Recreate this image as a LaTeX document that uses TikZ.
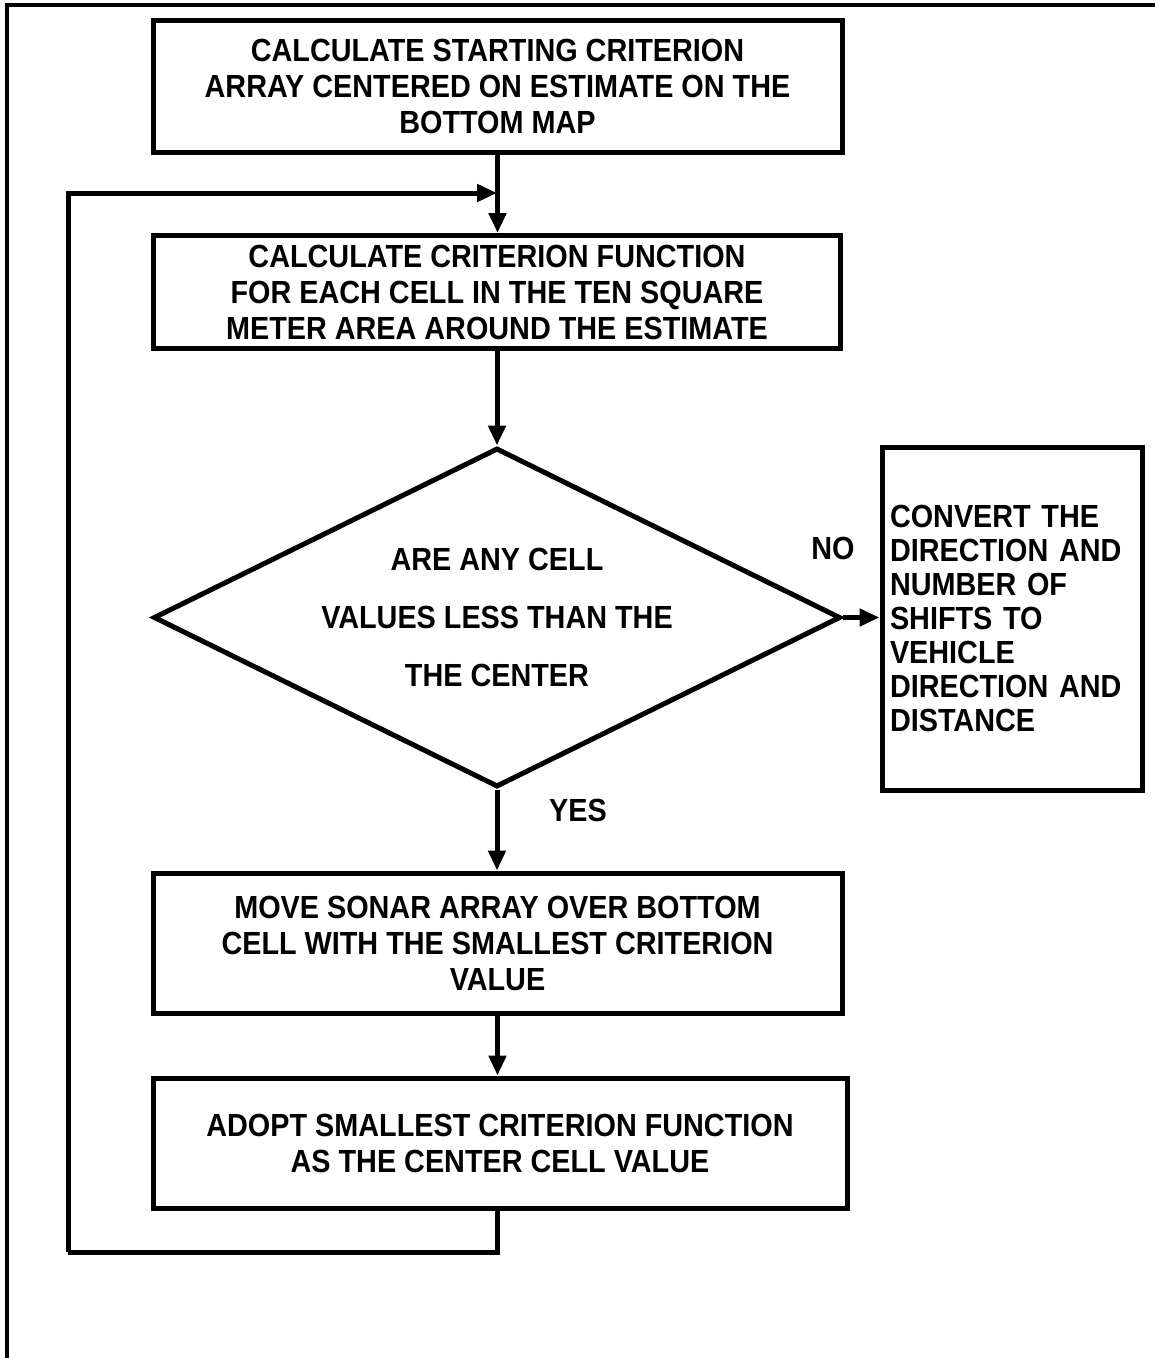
\documentclass[tikz,border=0pt]{standalone}
\usepackage{fontspec}
\setmainfont{Liberation Sans}[FakeStretch=0.9]
\usetikzlibrary{shapes.geometric,arrows.meta}
\begin{document}
\begin{tikzpicture}[x=1pt,y=-1pt,
  every node/.style={font=\bfseries\fontsize{32}{36}\selectfont},
  proc/.style={draw,line width=5pt,align=center,inner sep=0pt},
  decision/.style={draw,diamond,aspect=2.03,line width=5pt,inner sep=0pt,align=center,
    font=\bfseries\fontsize{32}{58}\selectfont},
  tag/.style={inner sep=0pt},
  link/.style={line width=5pt},
  flow/.style={line width=5pt,-{Triangle[length=20pt,width=17pt]}}]
\useasboundingbox (0,0) rectangle (1155,1358);
% page frame
\draw[line width=3.5pt] (7,1358) -- (7,5) -- (1155,5);

% process boxes
\node[proc,minimum width=689pt,minimum height=132pt] (start) at (497.5,86)
  {CALCULATE STARTING CRITERION\\ARRAY CENTERED ON ESTIMATE ON THE\\BOTTOM MAP};
\node[proc,minimum width=687pt,minimum height=113pt] (crit) at (497,292)
  {CALCULATE CRITERION FUNCTION\\FOR EACH CELL IN THE TEN SQUARE\\METER AREA AROUND THE ESTIMATE};
\node[decision,minimum width=687pt,minimum height=339pt] (test) at (497,617.5)
  {ARE ANY CELL\\VALUES LESS THAN THE\\THE CENTER};
\node[proc,minimum width=260pt,minimum height=343pt,text width=244pt,align=left,
  font=\bfseries\fontsize{32}{34}\selectfont] (convert) at (1012,618.5)
  {CONVERT THE\\DIRECTION AND\\NUMBER OF\\SHIFTS TO\\VEHICLE\\DIRECTION AND\\DISTANCE};
\node[proc,minimum width=689pt,minimum height=140pt] (move) at (497.5,943)
  {MOVE SONAR ARRAY OVER BOTTOM\\CELL WITH THE SMALLEST CRITERION\\VALUE};
\node[proc,minimum width=694pt,minimum height=130pt] (adopt) at (500,1143)
  {ADOPT SMALLEST CRITERION FUNCTION\\AS THE CENTER CELL VALUE};

% branch labels
\node[tag] (no) at (833,548) {NO};
\node[tag] (yes) at (578,810) {YES};

% loop-back path points
\coordinate (join) at (497,193);
\coordinate (loopB) at (68,1252);

% connectors
\draw[flow] (start.south) -- (start.south |- crit.north);
\draw[flow] (crit.south) -- (crit.south |- test.north);
\draw[flow] (test.south) -- (test.south |- move.north);
\draw[flow] (move.south) -- (move.south |- adopt.north);
\draw[flow] (test.east) -- (test.east -| convert.west);
\draw[link] (adopt.south -| join) |- (loopB);
\draw[flow] (loopB) |- (join);
\end{tikzpicture}
\end{document}
